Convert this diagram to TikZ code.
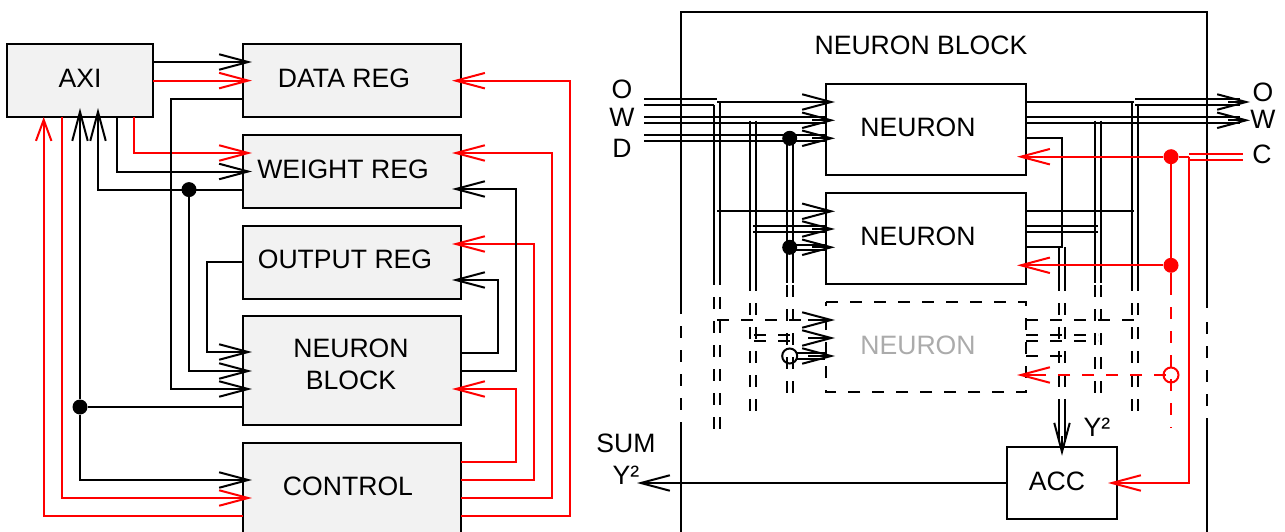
\documentclass[tikz,border=0pt]{standalone}
\usepackage{fontspec}
\setmainfont{Liberation Sans}
\usetikzlibrary{arrows.meta}
\tikzset{
  x=1pt,y=-1pt,
  wire/.style={draw=black,line width=2pt},
  rwire/.style={draw=red,line width=2pt},
  arr/.style={-{Straight Barb[length=29pt,width=15.5pt,line width=2pt]},shorten >=-9pt},
  arrz/.style={-{Straight Barb[length=21pt,width=15.5pt,line width=2pt]}},
  dsh/.style={dash pattern=on 12pt off 12pt},
  box/.style={draw=black,fill=boxgray,line width=2pt,inner sep=0pt,outer sep=0pt},
  wbox/.style={draw=black,fill=white,line width=2pt,inner sep=0pt,outer sep=0pt},
  txt/.style={font=\fontsize{26.6}{30}\selectfont,inner sep=0pt,text=black},
  dotk/.style={circle,fill=black,inner sep=0pt,minimum size=15pt},
  dotr/.style={circle,fill=red,inner sep=0pt,minimum size=15pt},
  openk/.style={circle,draw=black,line width=2pt,inner sep=0pt,minimum size=15pt},
  openr/.style={circle,draw=red,line width=2pt,inner sep=0pt,minimum size=15pt},
}
\definecolor{boxgray}{HTML}{F2F2F2}
\begin{document}
\begin{tikzpicture}
\useasboundingbox (0,0) rectangle (1285,532);
\clip (0,0) rectangle (1285,532);
% ---- left boxes
\node[box,minimum width=146pt,minimum height=73pt] (axi) at (80,80.5) {};
\node[box,minimum width=218pt,minimum height=73pt] (dreg) at (352,80.5) {};
\node[box,minimum width=218pt,minimum height=73pt] (wreg) at (352,171.5) {};
\node[box,minimum width=218pt,minimum height=73pt] (oreg) at (352,262) {};
\node[box,minimum width=218pt,minimum height=109pt] (nblk) at (352,370.5) {};
\node[box,minimum width=218pt,minimum height=109pt] (ctrl) at (352,497.5) {};
\node[txt] (taxi) at (80,78) {AXI};
\node[txt] (tdreg) at (344,78) {DATA REG};
\node[txt] (twreg) at (343,169) {WEIGHT REG};
\node[txt] (toreg) at (345,259) {OUTPUT REG};
\node[txt] (tn1) at (351,348) {NEURON};
\node[txt] (tn2) at (351,380) {BLOCK};
\node[txt] (tctrl) at (348,486) {CONTROL};
% ---- left wires
\draw[wire,arr] (axi.east |- 0,62) -- (dreg.west |- 0,62);
\draw[rwire,arr] (axi.east |- 0,80.6) -- (dreg.west |- 0,80.6);
\draw[rwire,arr] (134,0 |- axi.south) -- (134,153) -- (wreg.west |- 0,153);
\draw[wire,arr] (116.7,0 |- axi.south) -- (116.7,171.5) -- (wreg.west |- 0,171.5);
\draw[wire,arr] (wreg.west |- 0,189.6) -- (98,189.6) -- (98,0 |- axi.south);
\node[dotk] (j1) at (189,189.6) {};
\draw[wire,arr] (j1) -- (189,371) -- (nblk.west |- 0,371);
\draw[wire,arr] (dreg.west |- 0,98.7) -- (170.7,98.7) -- (170.7,389) -- (nblk.west |- 0,389);
\draw[wire,arr] (oreg.west |- 0,261.7) -- (207,261.7) -- (207,352) -- (nblk.west |- 0,352);
\node[dotk] (j2) at (80,407) {};
\draw[wire] (nblk.west |- j2) -- (j2);
\draw[wire,arr] (j2) -- (80,0 |- axi.south);
\draw[wire,arr] (j2) -- (80,480) -- (ctrl.west |- 0,480);
\draw[rwire,arr] (62,0 |- axi.south) -- (62,498) -- (ctrl.west |- 0,498);
\draw[rwire,arrz] (ctrl.west |- 0,516) -- (43.7,516) -- (43.7,0 |- axi.south);
\draw[rwire,arr] (ctrl.east |- 0,516) -- (570,516) -- (570,80.7) -- (dreg.east |- 0,80.7);
\draw[rwire,arr] (ctrl.east |- 0,498) -- (552,498) -- (552,153) -- (wreg.east |- 0,153);
\draw[rwire,arr] (ctrl.east |- 0,480) -- (534,480) -- (534,244) -- (oreg.east |- 0,244);
\draw[rwire,arr] (ctrl.east |- 0,461.7) -- (516,461.7) -- (516,389) -- (nblk.east |- 0,389);
\draw[wire,arr] (nblk.east |- 0,371) -- (516,371) -- (516,189) -- (wreg.east |- 0,189);
\draw[wire,arr] (nblk.east |- 0,352.7) -- (497.7,352.7) -- (497.7,280) -- (oreg.east |- 0,280);
% ---- right boxes
\node[wbox,minimum width=200pt,minimum height=91pt] (n1) at (926,129.5) {};
\node[wbox,minimum width=200pt,minimum height=91pt] (n2) at (926,238.5) {};
\draw[wire,dsh] (826,302) -- (1026,302) -- (1026,392) -- (826,392) -- (826,302);
\coordinate (n3w) at (826,347);
\coordinate (n3e) at (1026,347);
\node[wbox,minimum width=110pt,minimum height=72.5pt] (acc) at (1062,483) {};
% outer block
\coordinate (bl) at (681,12);
\coordinate (br) at (1207,12);
\draw[wire] (681,314) -- (bl) -- (br) -- (1207,308);
\draw[wire,dsh] (681,326) -- (681,422);
\draw[wire] (681,422) -- (681,532);
\draw[wire,dsh] (1207,322) -- (1207,418);
\draw[wire] (1207,418) -- (1207,532);
% texts
\node[txt] (tb) at (921,45) {NEURON BLOCK};
\node[txt] (tt1) at (918,127) {NEURON};
\node[txt] (tt2) at (918,236) {NEURON};
\node[txt,text=black!33] (tt3) at (918,345) {NEURON};
\node[txt] (tacc) at (1057,481) {ACC};
\node[txt] (ty) at (1097,427) {Y²};
\node[txt] (ts) at (626,443) {SUM};
\node[txt] (ts2) at (626,475) {Y²};
\node[txt] (lo) at (622,89) {O};
\node[txt] (lw) at (622,117) {W};
\node[txt] (ld) at (622,148) {D};
\node[txt] (ro) at (1263,92) {O};
\node[txt] (rw) at (1263,119) {W};
\node[txt] (rc) at (1262,154) {C};
% ---- input buses
\draw[wire] (644,99) -- (716.7,99);
\draw[wire] (644,104.7) -- (714,104.7);
\foreach \y in {117.3,123.3,135.3,141.3} \draw[wire] (644,\y) -- (825,\y);
\draw[wire,arr] (717,102) -- (n1.west |- 0,102);
\draw[wire,arr] (812,120.3) -- (n1.west |- 0,120.3);
\draw[wire,arr] (812,138.3) -- (n1.west |- 0,138.3);
\node[dotk] (d1) at (789.7,138.3) {};
\node[dotk] (d2) at (789.7,247.3) {};
\node[openk] (d3) at (789.7,356) {};
% vertical buses
\foreach \x/\ys in {714/104.7,720/102} \draw[wire] (\x,\ys) -- (\x,285);
\foreach \x in {714,720} \draw[wire,dsh] (\x,297) -- (\x,429);
\foreach \x in {750.3,756} {\draw[wire] (\x,120.7) -- (\x,291); \draw[wire,dsh] (\x,303) -- (\x,411);}
\foreach \x in {787,792.7} {\draw[wire] (\x,138.3) -- (\x,283); \draw[wire,dsh] (\x,285) -- (\x,393);}
% neuron 2 inputs
\draw[wire,arr] (717,211.3) -- (n2.west |- 0,211.3);
\foreach \y in {226,232} \draw[wire] (753,\y) -- (825,\y);
\draw[wire,arr] (812,229) -- (n2.west |- 0,229);
\foreach \y in {244.5,250} \draw[wire] (789.7,\y) -- (825,\y);
\draw[wire,arr] (812,247.3) -- (n2.west |- 0,247.3);
% neuron 3 inputs
\draw[wire,dsh] (717,320) -- (801,320);
\draw[wire,arr] (808,320) -- (n3w |- 0,320);
\foreach \y in {335,341} \draw[wire,dsh] (754,\y) -- (801,\y);
\draw[wire,arr] (808,338) -- (n3w |- 0,338);
\foreach \y in {353,359} \draw[wire] (797,\y) -- (825,\y);
\draw[wire,arr] (808,356) -- (n3w |- 0,356);
% ---- outputs
\draw[wire] (n1.east |- 0,102.3) -- (1134,102.3);
\foreach \y in {99.3,105} \draw[wire] (1135,\y) -- (1240,\y);
\coordinate (po) at (1241,102);
\draw[wire,arr] (1228,102) -- (po);
\foreach \y in {117.3,123.3} \draw[wire] (n1.east |- 0,\y) -- (1240,\y);
\coordinate (pw) at (1241,120.3);
\draw[wire,arr] (1228,120.3) -- (pw);
\draw[wire] (n1.east |- 0,138.3) -- (1061.7,138.3) -- (1061.7,246.7) -- (n2.east |- 0,246.7);
\draw[wire] (n2.east |- 0,211) -- (1134,211);
\foreach \y in {226,232.3} \draw[wire] (n2.east |- 0,\y) -- (1098,\y);
\foreach \x/\ys in {1131.7/102,1137.7/105} \draw[wire] (\x,\ys) -- (\x,291);
\foreach \x in {1131.7,1137.7} \draw[wire,dsh] (\x,303) -- (\x,411);
\foreach \x in {1095.3,1101} {\draw[wire] (\x,120.7) -- (\x,283); \draw[wire,dsh] (\x,285) -- (\x,393);}
\foreach \x in {1059,1065} {\draw[wire] (\x,247) -- (\x,291); \draw[wire,dsh] (\x,303) -- (\x,387); \draw[wire] (\x,399) -- (\x,441);}
\draw[wire,arr] (1062,436) -- (acc.north -| 1062,0);
% neuron 3 outputs
\draw[wire,dsh] (n3e |- 0,320) -- (1134,320);
\foreach \y in {335,341} \draw[wire,dsh] (n3e |- 0,\y) -- (1098,\y);
\draw[wire,dsh] (n3e |- 0,356) -- (1062,356);
% ---- red
\node[dotr] (r1) at (1171,156.7) {};
\node[dotr] (r2) at (1171,265.3) {};
\node[openr] (r3) at (1171,375) {};
\draw[rwire,arr] (r1) -- (n1.east |- r1);
\draw[rwire,arr] (r2) -- (n2.east |- r2);
\draw[rwire] (r1) -- (r2);
\draw[rwire] (r2) -- (1171,295);
\draw[rwire,dsh] (1171,307) -- (1171,428);
\coordinate (jc) at (1189,156.7);
\draw[rwire] (r1) -- (jc);
\foreach \y in {154,160} \draw[rwire] (1189,\y) -- (1243,\y);
\draw[rwire,arr] (jc) -- (1189,483) -- (acc.east);
\draw[rwire,dsh] (1166,375) -- (1058,375);
\draw[rwire,arr] (1046,375) -- (n3e |- 0,375);
% ---- sum
\coordinate (psum) at (646,483);
\draw[wire,arr] (acc.west) -- (psum);
\end{tikzpicture}
\end{document}
